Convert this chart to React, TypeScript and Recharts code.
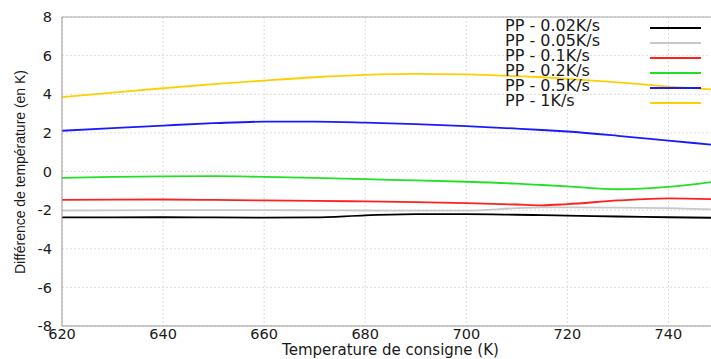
import React from 'react';
import {
  LineChart, Line, XAxis, YAxis, CartesianGrid, Legend, ReferenceLine, Label,
} from 'recharts';

// Temperature de consigne (K)
const temps = [620, 630, 640, 650, 660, 670, 680, 690, 700, 710, 715, 720, 730, 740, 750];

// Différence de température (en K), one array per heating rate
const pp002 = [-2.38, -2.38, -2.37, -2.38, -2.39, -2.38, -2.27, -2.21, -2.21, -2.24, -2.26, -2.28, -2.33, -2.37, -2.4];
const pp005 = [-2.02, -2.01, -2.0, -2.0, -2.0, -2.01, -2.02, -2.03, -2.03, -1.9, -1.86, -1.86, -1.87, -1.9, -1.97];
const pp01 = [-1.47, -1.46, -1.45, -1.47, -1.5, -1.52, -1.55, -1.59, -1.64, -1.71, -1.75, -1.69, -1.5, -1.39, -1.44];
const pp02 = [-0.33, -0.28, -0.25, -0.24, -0.28, -0.33, -0.4, -0.46, -0.53, -0.63, -0.7, -0.77, -0.92, -0.8, -0.5];
const pp05 = [2.11, 2.25, 2.38, 2.5, 2.58, 2.58, 2.53, 2.45, 2.35, 2.22, 2.15, 2.07, 1.85, 1.6, 1.35];
const pp1 = [3.85, 4.08, 4.31, 4.52, 4.71, 4.88, 5.0, 5.05, 5.03, 4.94, 4.88, 4.8, 4.62, 4.4, 4.22];

const xTicks = [620, 640, 660, 680, 700, 720, 740];
const yTicks = [-8, -6, -4, -2, 0, 2, 4, 6, 8];

const SERIES = [
  { key: 'pp002', name: 'PP - 0.02K/s', color: '#000000', values: pp002 },
  { key: 'pp005', name: 'PP - 0.05K/s', color: '#c8c8c8', values: pp005 },
  { key: 'pp01', name: 'PP - 0.1K/s', color: '#ff2020', values: pp01 },
  { key: 'pp02', name: 'PP - 0.2K/s', color: '#22e022', values: pp02 },
  { key: 'pp05', name: 'PP - 0.5K/s', color: '#1a1aff', values: pp05 },
  { key: 'pp1', name: 'PP - 1K/s', color: '#ffd000', values: pp1 },
];

const data = temps.map((t, i) => {
  const row: Record<string, number> = { t };
  SERIES.forEach(s => { row[s.key] = s.values[i]; });
  return row;
});

const FONT = '"DejaVu Sans", sans-serif';
const tickStyle = { fill: '#1a1a1a', fontSize: 14.5, fontFamily: FONT };

const LegendBox = () => (
  <div style={{ fontFamily: FONT, fontSize: 16, color: '#1a1a1a' }}>
    {SERIES.map(s => (
      <div key={s.key} style={{ display: 'flex', alignItems: 'center', height: 15, lineHeight: '15px' }}>
        <span style={{ width: 145, whiteSpace: 'nowrap' }}>{s.name}</span>
        <span style={{ width: 51, height: 2, marginTop: 4, background: s.color, display: 'inline-block' }} />
      </div>
    ))}
  </div>
);

export default function App() {
  return (
    <div style={{ position: 'fixed', left: 0, top: 0, width: 711, height: 359, overflow: 'hidden', background: '#fff' }}>
      <LineChart width={720} height={359} data={data} margin={{ top: 17, right: 1, left: 0, bottom: 0 }}>
        <CartesianGrid stroke="#dcdcdc" strokeDasharray="2 2" />
        <XAxis
          dataKey="t" type="number" domain={[620, 750]} ticks={xTicks}
          height={33} tickSize={0} tickMargin={3} tick={tickStyle} stroke="#999"
        >
          <Label value="Temperature de consigne (K)" position="insideBottom" offset={4}
            style={{ fill: '#1a1a1a', fontSize: 15, fontFamily: FONT }} />
        </XAxis>
        <YAxis
          type="number" domain={[-8, 8]} ticks={yTicks} width={62}
          tickSize={0} tickMargin={10} tick={tickStyle} stroke="#999"
          label={{
            content: () => (
              <text x={20} y={172} transform="rotate(-90 20 172)" textAnchor="middle" dominantBaseline="central"
                fill="#1a1a1a" fontSize={14} fontFamily='"Liberation Sans", sans-serif'
                textLength={204} lengthAdjust="spacingAndGlyphs">
                Différence de température (en K)
              </text>
            ),
          }}
        />
        <ReferenceLine y={8} stroke="#aaa" />
        {SERIES.map(s => (
          <Line key={s.key} type="monotone" dataKey={s.key} name={s.name} stroke={s.color}
            strokeWidth={1.8} dot={false} isAnimationActive={false} />
        ))}
        <Legend layout="vertical" align="center" verticalAlign="middle"
          wrapperStyle={{ top: 18, left: 505, width: 200 }} content={() => <LegendBox />} />
      </LineChart>
    </div>
  );
}
